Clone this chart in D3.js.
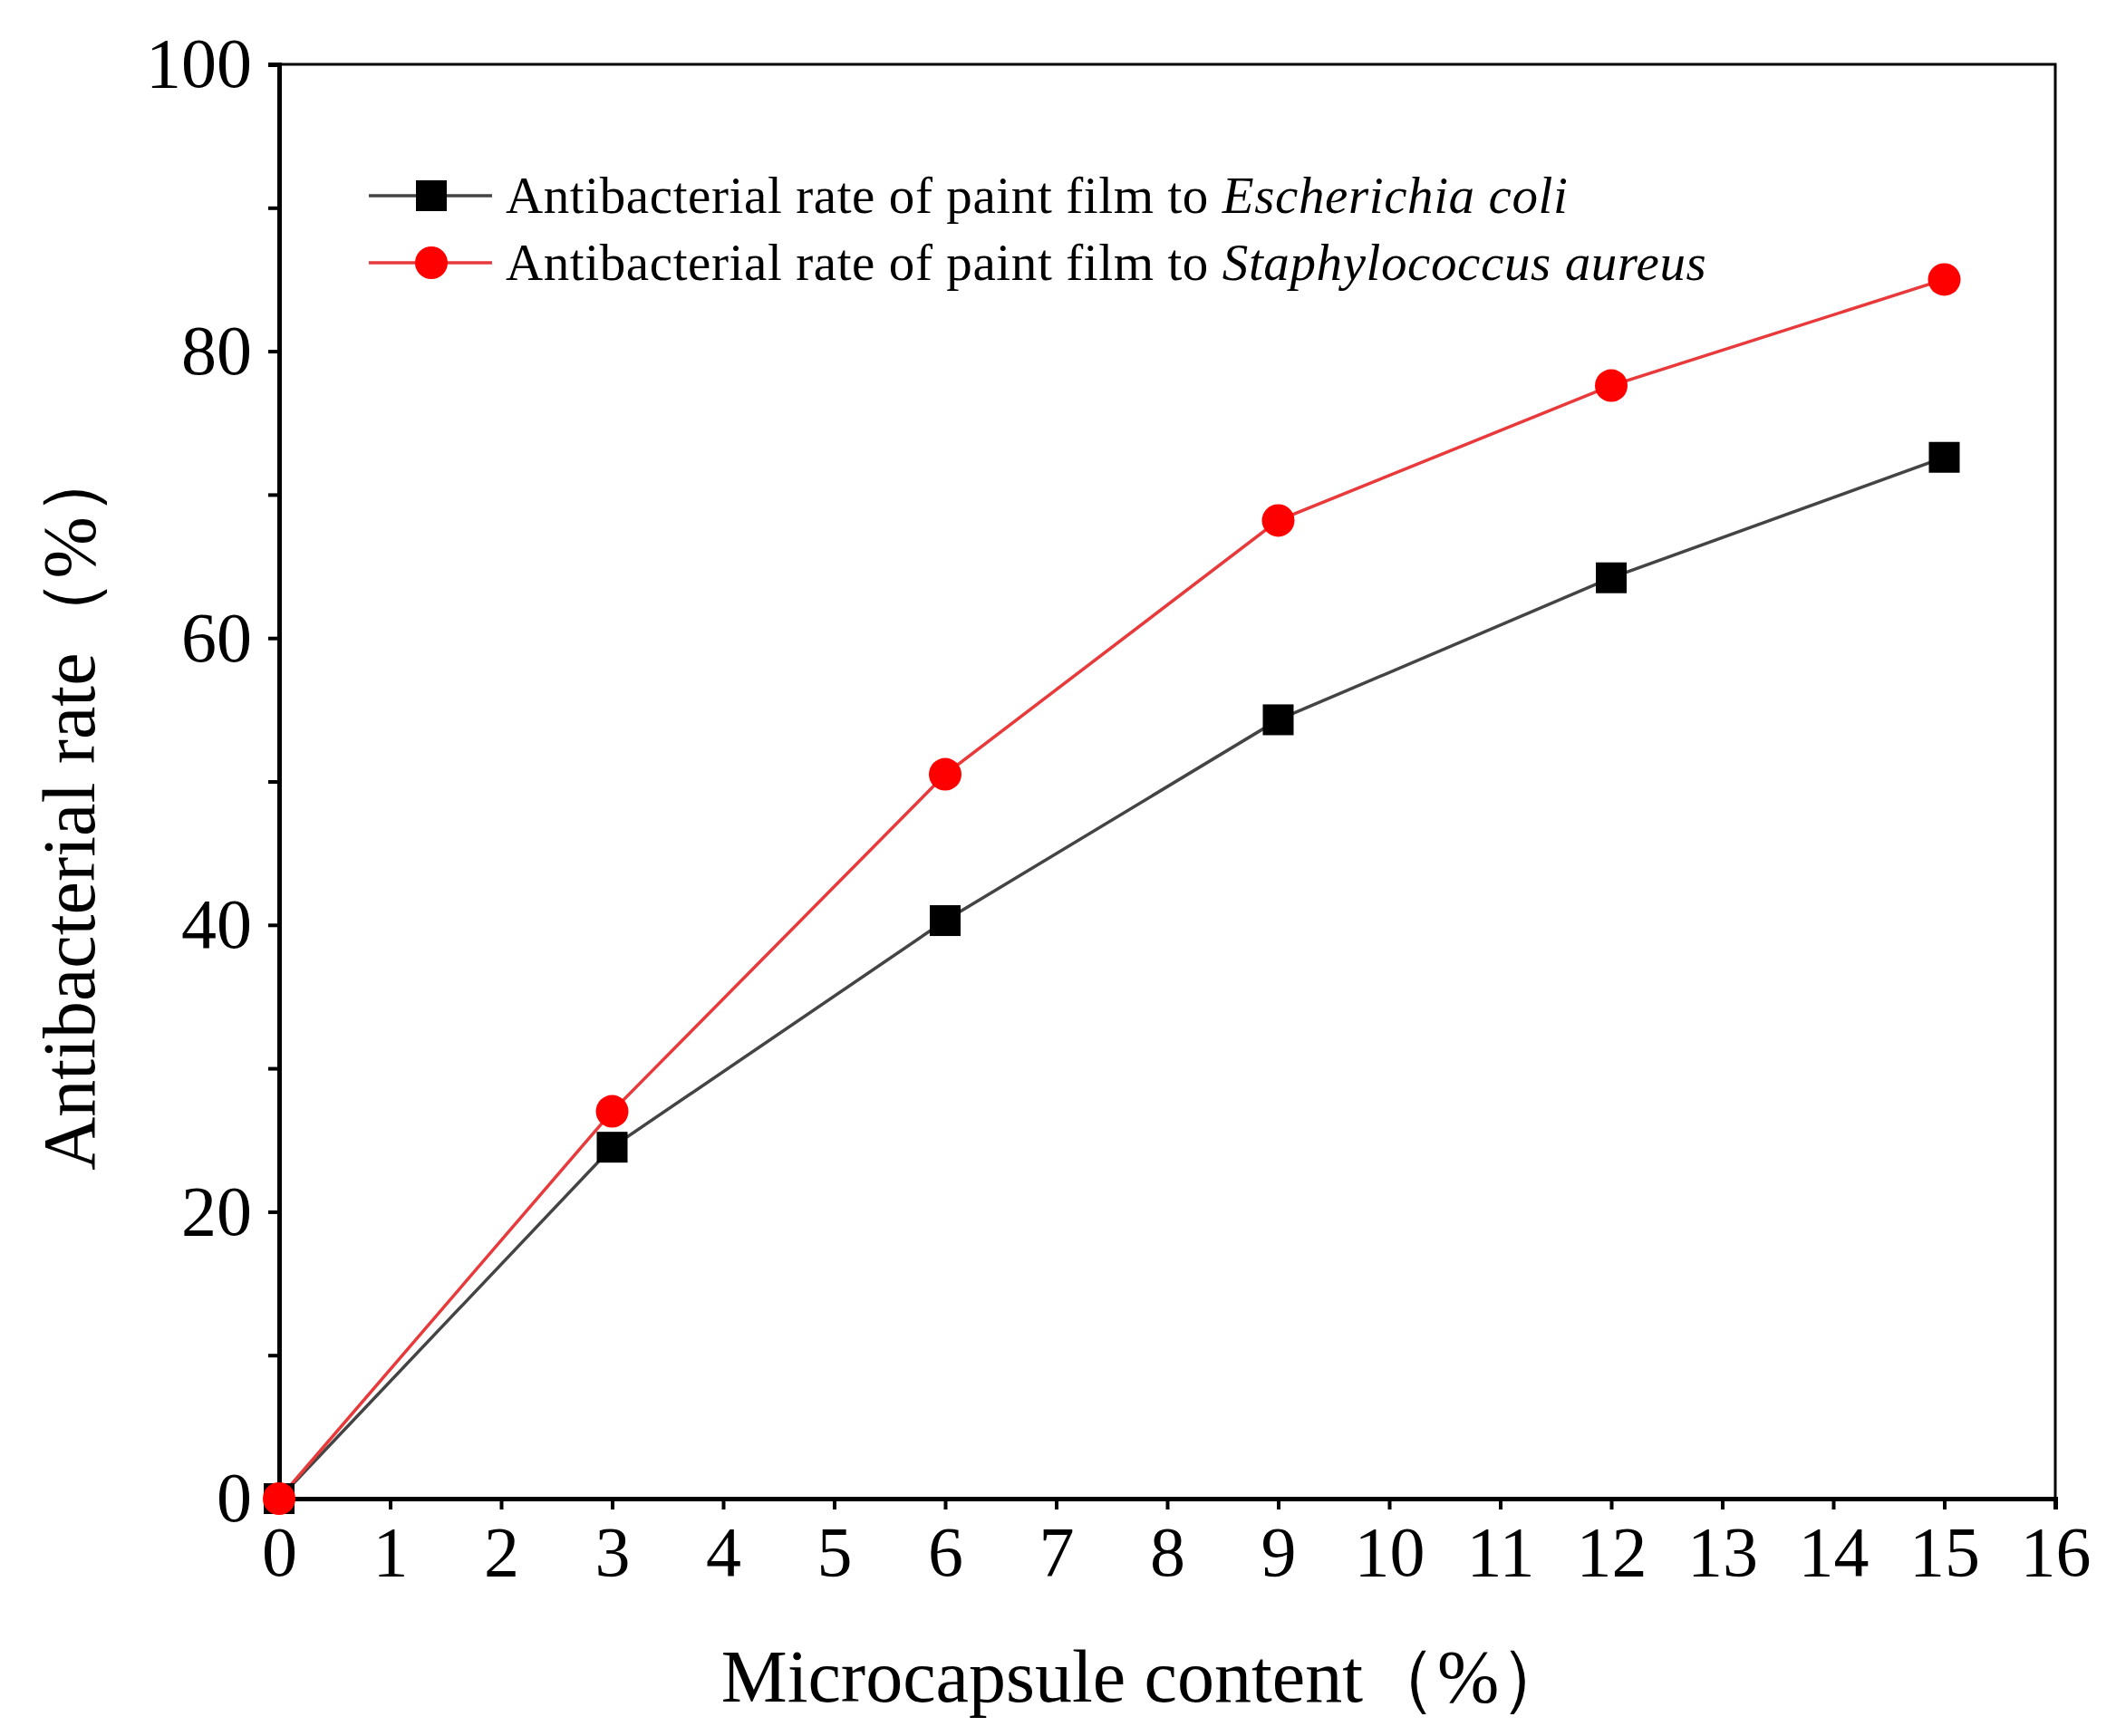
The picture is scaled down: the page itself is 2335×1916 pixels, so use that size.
<!DOCTYPE html>
<html><head><meta charset="utf-8">
<script src="https://cdn.jsdelivr.net/npm/d3@7"></script>
<style>body{margin:0;background:#fff}</style></head>
<body><svg id="c" width="2335" height="1916"></svg>
<script>
const contents=[0,3,6,9,12,15];
const ecoli=[0,24.5,40.3,54.3,64.2,72.6];
const saureus=[0,27,50.5,68.2,77.6,85];
const xTicks=d3.range(0,17,1);
const yTicks=[0,20,40,60,80,100];
const yMinor=[10,30,50,70,90];
const legendLabels=[["Antibacterial rate of paint film to ","Escherichia coli"],["Antibacterial rate of paint film to ","Staphylococcus aureus"]];

const svg=d3.select("#c");
const L=308,R=2268,T=71,B=1654;
const x=d3.scaleLinear().domain([0,16]).range([L,R]);
const y=d3.scaleLinear().domain([0,100]).range([B,T]);
const font="'Liberation Serif','Times New Roman',serif";

svg.append("rect").attr("x",L).attr("y",T).attr("width",R-L).attr("height",B-T).attr("fill","none").attr("stroke","#000").attr("stroke-width",3);

svg.append("g").attr("transform",`translate(0,${B})`).call(d3.axisBottom(x).tickValues(xTicks).tickSize(12).tickPadding(18).tickFormat(d3.format("d")));
svg.append("g").attr("transform",`translate(${L},0)`).call(d3.axisLeft(y).tickValues(yTicks).tickSize(12).tickPadding(18));
svg.append("g").attr("transform",`translate(${L},0)`).call(d3.axisLeft(y).tickValues(yMinor).tickSize(12).tickFormat(""));
svg.selectAll(".domain").attr("stroke-width",5);
svg.selectAll(".tick line").attr("stroke-width",4);
svg.selectAll(".tick text").attr("font-family",font).attr("font-size",78).attr("fill","#000");

svg.append("text").attr("x",1266).attr("y",1878).attr("text-anchor","middle").attr("font-family",font).attr("font-size",82).text("Microcapsule content（%）");
svg.append("text").attr("transform","translate(104,890) rotate(-90)").attr("text-anchor","middle").attr("font-family",font).attr("font-size",82).text("Antibacterial rate（%）");

const line=d3.line().x((d,i)=>x(contents[i])).y(d=>y(d));
svg.append("path").datum(ecoli).attr("d",line).attr("fill","none").attr("stroke","#444").attr("stroke-width",3.5);
svg.append("path").datum(saureus).attr("d",line).attr("fill","none").attr("stroke","#e8393b").attr("stroke-width",3.5);
svg.selectAll(".sq").data(ecoli).enter().append("rect").attr("x",(d,i)=>x(contents[i])-17).attr("y",d=>y(d)-17).attr("width",34).attr("height",34).attr("fill","#000");
svg.selectAll(".ci").data(saureus).enter().append("circle").attr("cx",(d,i)=>x(contents[i])).attr("cy",d=>y(d)).attr("r",18).attr("fill","#f00");

legendLabels.forEach((lab,i)=>{
  const ly=216+i*74;
  svg.append("line").attr("x1",407).attr("x2",543).attr("y1",ly).attr("y2",ly).attr("stroke",i?"#e8393b":"#444").attr("stroke-width",3.5);
  if(i) svg.append("circle").attr("cx",476).attr("cy",ly).attr("r",18).attr("fill","#f00");
  else svg.append("rect").attr("x",459).attr("y",ly-17).attr("width",34).attr("height",34).attr("fill","#000");
  const t=svg.append("text").attr("x",558).attr("y",ly+19).attr("font-family",font).attr("font-size",57).attr("letter-spacing",0.6);
  t.append("tspan").text(lab[0]);
  t.append("tspan").attr("font-style","italic").text(lab[1]);
});
</script></body></html>
